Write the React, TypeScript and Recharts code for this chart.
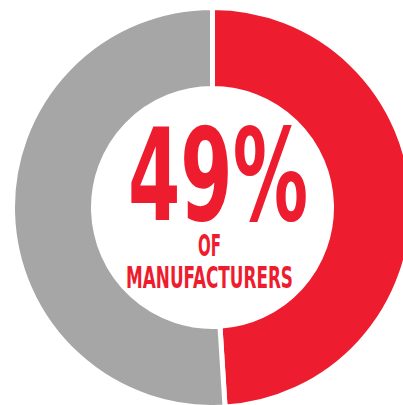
import { PieChart, Pie, Cell } from 'recharts'

const shareNames = ['Manufacturers', 'Others']
const shareValues = [49, 51]
const shareColors = ['#ed1c2e', '#a6a6a6']

const headline = '49%'
const subLines = ['OF', 'MANUFACTURERS']

const data = shareNames.map((name, i) => ({ name, value: shareValues[i] }))

const W = 403
const H = 405

export default function App() {
  return (
    <div style={{ position: 'absolute', left: 0, top: 0, width: W, height: H, background: '#fff' }}>
      <PieChart width={W} height={H} margin={{ top: 0, right: 0, bottom: 0, left: 0 }}>
        <Pie
          data={data}
          dataKey="value"
          nameKey="name"
          cx={212.5}
          cy={207.5}
          innerRadius={119}
          outerRadius={200}
          startAngle={90}
          endAngle={-270}
          stroke="#ffffff"
          strokeWidth={5}
          isAnimationActive={false}
        >
          {data.map((_d, i) => (
            <Cell key={i} fill={shareColors[i]} />
          ))}
        </Pie>
      </PieChart>
      <svg
        width={W}
        height={H}
        style={{ position: 'absolute', left: 0, top: 0, pointerEvents: 'none' }}
      >
        <g fill="#ed1c2e" fontFamily="'Liberation Sans Narrow', 'DejaVu Sans Condensed', sans-serif" fontWeight="bold">
          <text x={128} y={220} fontSize={128} textLength={180} lengthAdjust="spacingAndGlyphs">
            {headline}
          </text>
          <text x={198} y={256} fontSize={31} textLength={23} lengthAdjust="spacingAndGlyphs">
            {subLines[0]}
          </text>
          <text x={126} y={288} fontSize={30} textLength={167} lengthAdjust="spacingAndGlyphs">
            {subLines[1]}
          </text>
        </g>
      </svg>
    </div>
  )
}
